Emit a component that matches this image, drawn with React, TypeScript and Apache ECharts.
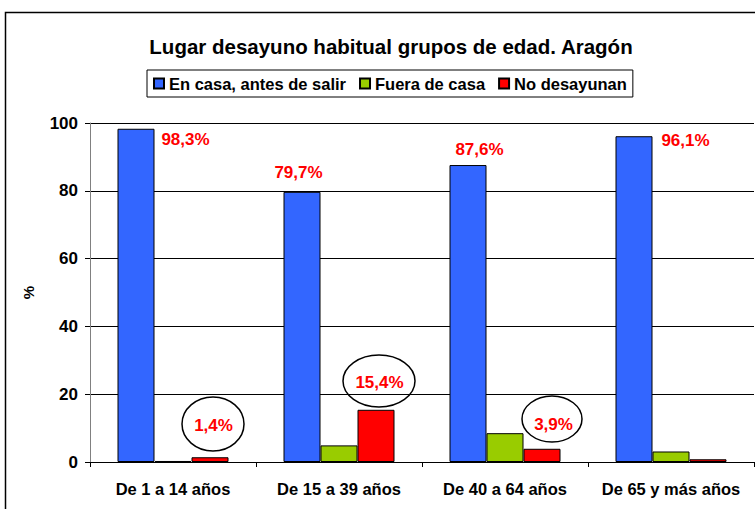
import React, { useEffect, useRef } from "react";
import * as echarts from "echarts";

const categories = ["De 1 a 14 años", "De 15 a 39 años", "De 40 a 64 años", "De 65 y más años"];
const seriesNames = ["En casa, antes de salir", "Fuera de casa", "No desayunan"];
const enCasa = [98.3, 79.7, 87.6, 96.1];
const fueraCasa = [0.3, 4.9, 8.5, 3.1];
const noDesayunan = [1.4, 15.4, 3.9, 0.8];
const yTicks = [0, 20, 40, 60, 80, 100];

// label placement (relative to bar top-left), null = no label
const blueLabelPos: (number[] | null)[] = [[68, 11], [15, -19], [30, -16], [70, 4]];
const redLabelPos: (number[] | null)[] = [[22, -32], [22, -27], [30, -24], null];

const FONT = "'Liberation Sans', Arial, sans-serif";
const fmt = (v: number) => v.toFixed(1).replace(".", ",") + "%";

export default function App() {
  const ref = useRef<HTMLDivElement>(null);
  useEffect(() => {
    const chart = echarts.init(ref.current!, null, { renderer: "svg" });
    const mkData = (vals: number[], pos: (number[] | null)[] | null) =>
      vals.map((v, i) => {
        const p = pos ? pos[i] : null;
        return p
          ? {
              value: v,
              label: {
                show: true,
                position: p,
                align: "center",
                verticalAlign: "middle",
                formatter: () => fmt(v),
                color: "#FF0000",
                fontWeight: "bold",
                fontSize: 17,
                fontFamily: FONT,
              },
            }
          : { value: v };
      });
    const border = { borderColor: "#000", borderWidth: 1 };
    chart.setOption({
      animation: false,
      backgroundColor: "#fff",
      title: {
        text: "Lugar desayuno habitual grupos de edad. Aragón",
        left: 386,
        textAlign: "center",
        top: 31,
        textStyle: { fontSize: 20.5, fontWeight: "bold", color: "#000", fontFamily: FONT },
      },
      legend: {
        data: seriesNames,
        left: 147,
        top: 70,
        borderColor: "#000",
        borderWidth: 1,
        padding: [5, 6, 5, 6],
        itemWidth: 10,
        itemHeight: 10,
        itemGap: 13,
        icon: "rect",
        textStyle: { fontSize: 16.5, fontWeight: "bold", color: "#000", fontFamily: FONT },
      },
      grid: { left: 90, right: 1, top: 123, bottom: 47, containLabel: false },
      xAxis: {
        type: "category",
        data: categories,
        axisLine: { lineStyle: { color: "#000", width: 1 } },
        axisTick: { show: true, length: 5, lineStyle: { color: "#000" } },
        axisLabel: { interval: 0, fontSize: 16.5, fontWeight: "bold", color: "#000", fontFamily: FONT, margin: 18 },
      },
      yAxis: {
        type: "value",
        min: yTicks[0],
        max: yTicks[yTicks.length - 1],
        interval: 20,
        name: "%",
        nameLocation: "middle",
        nameGap: 54,
        nameRotate: 90,
        nameTextStyle: { fontSize: 15, fontWeight: "bold", color: "#000", fontFamily: FONT },
        axisLine: { show: true, lineStyle: { color: "#808080", width: 1 } },
        axisTick: { show: true, length: 5, lineStyle: { color: "#000" } },
        axisLabel: { fontSize: 17, fontWeight: "bold", color: "#000", fontFamily: FONT, margin: 12 },
        splitLine: { show: true, lineStyle: { color: "#000", width: 1 } },
      },
      series: [
        {
          name: seriesNames[0],
          type: "bar",
          barWidth: 37,
          barGap: "0%",
          itemStyle: { color: "#3366FF", ...border },
          data: mkData(enCasa, blueLabelPos),
        },
        {
          name: seriesNames[1],
          type: "bar",
          barWidth: 37,
          barGap: "0%",
          itemStyle: { color: "#99CC00", ...border },
          data: mkData(fueraCasa, null),
        },
        {
          name: seriesNames[2],
          type: "bar",
          barWidth: 37,
          barGap: "0%",
          itemStyle: { color: "#FF0000", ...border },
          data: mkData(noDesayunan, redLabelPos),
        },
      ],
      graphic: [
        {
          type: "rect",
          shape: { x: 5.5, y: 12.5, width: 900, height: 700 },
          style: { fill: "none", stroke: "#000", lineWidth: 1.5 },
          silent: true,
        },
        { type: "ellipse", shape: { cx: 213, cy: 424, rx: 31, ry: 27 }, style: { fill: "none", stroke: "#000", lineWidth: 1.5 }, z: 10 },
        { type: "ellipse", shape: { cx: 379, cy: 381, rx: 36, ry: 26 }, style: { fill: "none", stroke: "#000", lineWidth: 1.5 }, z: 10 },
        { type: "ellipse", shape: { cx: 552, cy: 419, rx: 30, ry: 23 }, style: { fill: "none", stroke: "#000", lineWidth: 1.5 }, z: 10 },
      ],
    });
    return () => chart.dispose();
  }, []);
  return <div ref={ref} style={{ position: "fixed", left: 0, top: 0, width: 755, height: 509 }} />;
}
